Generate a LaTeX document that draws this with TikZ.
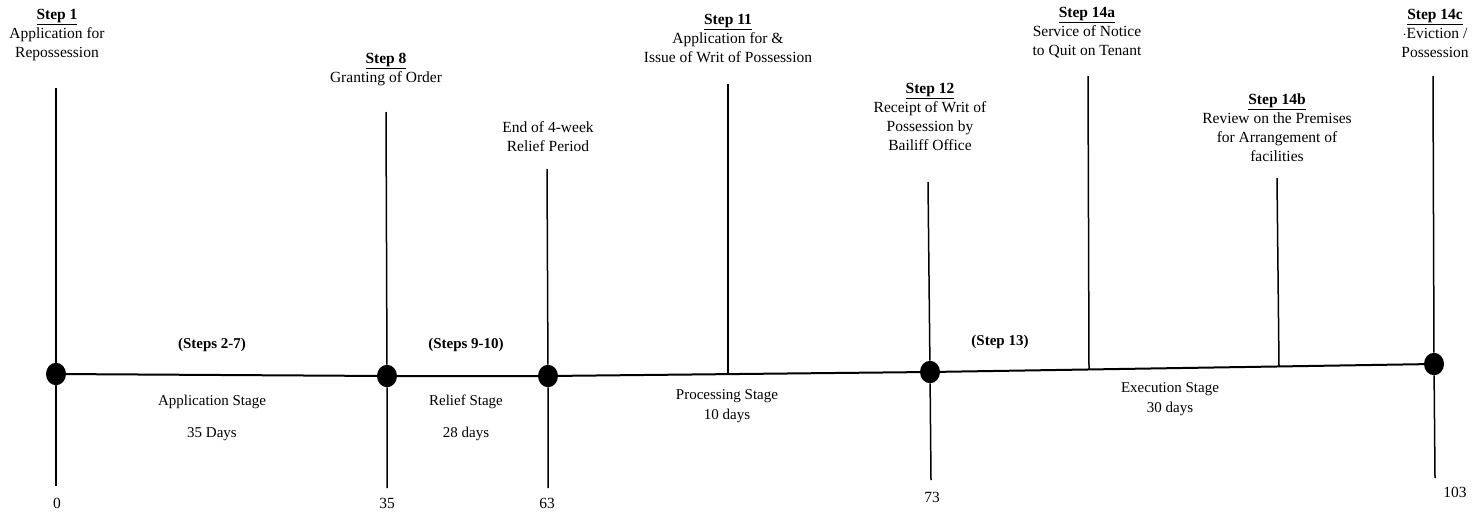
\documentclass[tikz,border=0pt]{standalone}
\usepackage{fontspec}
\setmainfont{Liberation Serif}
\begin{document}
\begin{tikzpicture}[x=1pt,y=-1pt,
  lbl/.style={align=center,inner sep=0pt,font=\fontsize{15.5}{19}\selectfont},
  stg/.style={align=center,inner sep=0pt,font=\fontsize{15}{20}\selectfont},
  num/.style={inner sep=0pt,font=\fontsize{15.5}{19}\selectfont},
  rng/.style={inner sep=0pt,font=\fontsize{15}{19}\selectfont\bfseries},
  dot/.style={ellipse,fill=black,inner sep=0pt,minimum width=20pt,minimum height=23pt},
  tick/.style={line width=1.5pt},
  tline/.style={line width=2pt}]
\useasboundingbox (0,0) rectangle (1482,514);
% dots on the timeline
\node[circle,fill=black,inner sep=0pt,minimum size=20pt,yscale=1.12] (d0) at (56,374) {};
\node[circle,fill=black,inner sep=0pt,minimum size=20pt,yscale=1.12] (d35) at (387,376) {};
\node[circle,fill=black,inner sep=0pt,minimum size=20pt,yscale=1.12] (d63) at (548,376) {};
\node[circle,fill=black,inner sep=0pt,minimum size=20pt,yscale=1.12] (d73) at (930,372) {};
\node[circle,fill=black,inner sep=0pt,minimum size=20pt,yscale=1.12] (d103) at (1434,364) {};
% points on the line for steps without dots
\coordinate (p11) at (728,374);
\coordinate (p14a) at (1089,369.5);
\coordinate (p14b) at (1279,366.5);
% tick ends
\coordinate (t0) at (56,88);   \coordinate (b0) at (56,486);
\coordinate (t35) at (386,112); \coordinate (b35) at (387,488);
\coordinate (t63) at (547,169); \coordinate (b63) at (548,488);
\coordinate (t11) at (728,84);
\coordinate (t73) at (928,182); \coordinate (b73) at (931,480);
\coordinate (t14a) at (1088,76);
\coordinate (t14b) at (1277,178);
\coordinate (t103) at (1433,76); \coordinate (b103) at (1435,478);
% timeline
\draw[tline] (d0.center) -- (d35.center) -- (d63.center) -- (d73.center) -- (d103.center);
% vertical ticks
\draw[tick] (t0) -- (d0) (d0) -- (b0);
\draw[tick] (t35) -- (d35) (d35) -- (b35);
\draw[tick] (t63) -- (d63) (d63) -- (b63);
\draw[tick] (t11) -- (p11);
\draw[tick] (t73) -- (d73) (d73) -- (b73);
\draw[tick] (t14a) -- (p14a);
\draw[tick] (t14b) -- (p14b);
\draw[tick] (t103) -- (d103) (d103) -- (b103);
% top labels
\node[lbl] (l1) at (57,35) {\underline{\textbf{Step 1}}\\Application for\\Repossession};
\node[lbl] (l8) at (386,70) {\underline{\textbf{Step 8}}\\Granting of Order};
\node[lbl] (l63) at (548,137) {End of 4-week\\Relief Period};
\node[lbl] (l11) at (728,38) {\underline{\textbf{Step 11}}\\Application for \&\\Issue of Writ of Possession};
\node[lbl] (l12) at (930,117) {\underline{\textbf{Step 12}}\\Receipt of Writ of\\Possession by\\Bailiff Office};
\node[lbl] (l14a) at (1087,33) {\underline{\textbf{Step 14a}}\\Service of Notice\\to Quit on Tenant};
\node[lbl] (l14b) at (1277,128) {\underline{\textbf{Step 14b}}\\Review on the Premises\\for Arrangement of\\facilities};
\node[lbl] (l14c) at (1435,33) {\underline{\textbf{Step 14c}}\\$\cdot$Eviction /\\Possession};
% step ranges
\node[rng] (s27) at (212,345) {(Steps 2-7)};
\node[rng] (s910) at (466,345) {(Steps 9-10)};
\node[rng] (s13) at (1000,342) {(Step 13)};
% stages
\node[stg] (st1a) at (212,402) {Application Stage};
\node[stg] (st1b) at (212,434) {35 Days};
\node[stg] (st2a) at (466,402) {Relief Stage};
\node[stg] (st2b) at (466,434) {28 days};
\node[stg] (st3) at (727,406) {Processing Stage\\10 days};
\node[stg] (st4) at (1170,399.5) {Execution Stage\\30 days};
% day numbers
\node[num] (n0) at (57,503) {0};
\node[num] (n35) at (387,503) {35};
\node[num] (n63) at (547,503) {63};
\node[num] (n73) at (932,497) {73};
\node[num] (n103) at (1455,492) {103};
\end{tikzpicture}
\end{document}
